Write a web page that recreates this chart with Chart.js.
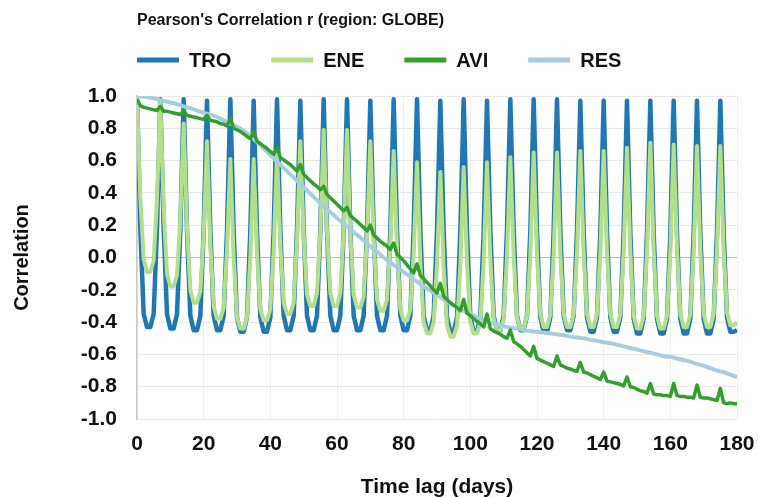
<!DOCTYPE html>
<html>
<head>
<meta charset="utf-8">
<title>Pearson's Correlation r (region: GLOBE)</title>
<script src="https://cdn.jsdelivr.net/npm/chart.js@4.4.1/dist/chart.umd.min.js"></script>
<style>
    html, body { margin: 0; padding: 0; background: #ffffff; }
    #wrap { width: 758px; height: 497px; }
</style>
</head>
<body>
<div id="wrap"><canvas id="corrChart" width="758" height="497"></canvas></div>
<script>
// lag in days, 0 .. 180
const lagDays = Array.from({ length: 181 }, (_, i) => i);

const seriesNames = ["TRO", "ENE", "AVI", "RES"];

/* values, one per day */
const troValues = [
    1.00, 0.18, -0.35, -0.43, -0.43, -0.35, 0.18,
    0.98, 0.18, -0.35, -0.44, -0.44, -0.35, 0.17,
    0.98, 0.17, -0.36, -0.45, -0.45, -0.36, 0.17,
    0.97, 0.17, -0.36, -0.45, -0.45, -0.36, 0.16,
    0.98, 0.16, -0.37, -0.46, -0.46, -0.37, 0.16,
    0.97, 0.16, -0.37, -0.46, -0.46, -0.37, 0.16,
    0.98, 0.17, -0.36, -0.45, -0.45, -0.36, 0.17,
    0.97, 0.17, -0.36, -0.45, -0.45, -0.36, 0.17,
    0.98, 0.17, -0.36, -0.45, -0.45, -0.36, 0.17,
    0.98, 0.17, -0.36, -0.45, -0.45, -0.36, 0.17,
    0.97, 0.17, -0.36, -0.45, -0.45, -0.36, 0.17,
    0.98, 0.17, -0.36, -0.45, -0.45, -0.36, 0.17,
    0.98, 0.17, -0.36, -0.45, -0.45, -0.36, 0.17,
    0.97, 0.16, -0.37, -0.46, -0.46, -0.37, 0.16,
    0.98, 0.16, -0.37, -0.46, -0.46, -0.37, 0.16,
    0.97, 0.17, -0.36, -0.45, -0.45, -0.36, 0.17,
    0.98, 0.17, -0.36, -0.45, -0.45, -0.36, 0.16,
    0.98, 0.16, -0.37, -0.46, -0.46, -0.37, 0.16,
    0.98, 0.16, -0.36, -0.45, -0.45, -0.36, 0.16,
    0.97, 0.16, -0.37, -0.46, -0.46, -0.37, 0.16,
    0.97, 0.16, -0.37, -0.46, -0.46, -0.37, 0.16,
    0.97, 0.15, -0.38, -0.47, -0.47, -0.38, 0.15,
    0.97, 0.15, -0.38, -0.47, -0.47, -0.38, 0.15,
    0.97, 0.15, -0.38, -0.47, -0.47, -0.38, 0.15,
    0.97, 0.15, -0.38, -0.47, -0.47, -0.38, 0.15,
    0.97, 0.15, -0.37, -0.46, -0.46, -0.45
];

const eneValues = [
    1.00, 0.37, -0.01, -0.09, -0.09, -0.02, 0.36,
    0.97, 0.30, -0.10, -0.18, -0.18, -0.11, 0.24,
    0.83, 0.19, -0.20, -0.28, -0.28, -0.21, 0.14,
    0.72, 0.08, -0.30, -0.38, -0.38, -0.31, 0.04,
    0.61, 0.00, -0.37, -0.44, -0.44, -0.37, 0.00,
    0.61, 0.03, -0.32, -0.39, -0.39, -0.32, 0.04,
    0.64, 0.07, -0.28, -0.35, -0.35, -0.28, 0.10,
    0.72, 0.13, -0.23, -0.30, -0.30, -0.22, 0.16,
    0.79, 0.16, -0.22, -0.30, -0.30, -0.22, 0.16,
    0.79, 0.15, -0.23, -0.31, -0.31, -0.24, 0.12,
    0.72, 0.11, -0.26, -0.33, -0.33, -0.26, 0.09,
    0.66, 0.05, -0.32, -0.39, -0.39, -0.32, 0.02,
    0.59, -0.03, -0.40, -0.47, -0.47, -0.40, -0.05,
    0.53, -0.06, -0.42, -0.49, -0.49, -0.42, -0.05,
    0.56, -0.04, -0.40, -0.47, -0.47, -0.40, -0.03,
    0.59, -0.01, -0.38, -0.45, -0.45, -0.38, 0.00,
    0.62, 0.01, -0.37, -0.44, -0.44, -0.36, 0.02,
    0.65, 0.02, -0.35, -0.43, -0.43, -0.35, 0.02,
    0.65, 0.02, -0.35, -0.43, -0.43, -0.35, 0.03,
    0.66, 0.03, -0.35, -0.43, -0.43, -0.35, 0.03,
    0.66, 0.03, -0.35, -0.43, -0.43, -0.35, 0.04,
    0.68, 0.03, -0.36, -0.44, -0.44, -0.36, 0.04,
    0.71, 0.04, -0.36, -0.44, -0.44, -0.36, 0.04,
    0.70, 0.05, -0.35, -0.43, -0.43, -0.35, 0.04,
    0.69, 0.04, -0.35, -0.43, -0.43, -0.35, 0.04,
    0.69, 0.05, -0.34, -0.42, -0.42, -0.40
];

const aviValues = [
    0.98, 0.94, 0.93, 0.925, 0.92, 0.915, 0.91,
    0.935, 0.905, 0.905, 0.90, 0.895, 0.89, 0.885,
    0.91, 0.88, 0.875, 0.87, 0.865, 0.86, 0.855,
    0.88, 0.85, 0.845, 0.84, 0.83, 0.825, 0.815,
    0.86, 0.80, 0.79, 0.78, 0.765, 0.75, 0.735,
    0.78, 0.72, 0.705, 0.69, 0.675, 0.655, 0.64,
    0.68, 0.62, 0.605, 0.59, 0.575, 0.555, 0.535,
    0.575, 0.515, 0.495, 0.475, 0.455, 0.44, 0.42,
    0.44, 0.39, 0.37, 0.35, 0.33, 0.31, 0.29,
    0.31, 0.26, 0.24, 0.225, 0.205, 0.185, 0.165,
    0.20, 0.14, 0.12, 0.10, 0.085, 0.07, 0.05,
    0.09, 0.02, 0.00, -0.02, -0.045, -0.07, -0.095,
    -0.04, -0.11, -0.13, -0.155, -0.175, -0.20, -0.22,
    -0.16, -0.24, -0.26, -0.28, -0.295, -0.31, -0.33,
    -0.26, -0.345, -0.36, -0.38, -0.395, -0.41, -0.43,
    -0.35, -0.44, -0.455, -0.465, -0.475, -0.49, -0.50,
    -0.45, -0.52, -0.535, -0.55, -0.57, -0.59, -0.61,
    -0.55, -0.625, -0.635, -0.645, -0.655, -0.665, -0.675,
    -0.61, -0.665, -0.675, -0.685, -0.69, -0.70, -0.705,
    -0.65, -0.71, -0.715, -0.725, -0.735, -0.745, -0.755,
    -0.71, -0.765, -0.77, -0.775, -0.78, -0.785, -0.795,
    -0.74, -0.80, -0.805, -0.815, -0.825, -0.83, -0.84,
    -0.78, -0.845, -0.85, -0.85, -0.855, -0.855, -0.86,
    -0.78, -0.855, -0.86, -0.86, -0.865, -0.865, -0.87,
    -0.79, -0.865, -0.87, -0.87, -0.875, -0.88, -0.885,
    -0.81, -0.90, -0.905, -0.90, -0.905, -0.905
];

const resValues = [
    1.00, 0.998, 0.995, 0.993, 0.99, 0.985, 0.98,
    0.975, 0.97, 0.965, 0.96, 0.955, 0.95, 0.943,
    0.935, 0.93, 0.925, 0.918, 0.91, 0.903, 0.895,
    0.89, 0.885, 0.878, 0.87, 0.86, 0.85, 0.84,
    0.83, 0.82, 0.81, 0.798, 0.785, 0.77, 0.755,
    0.735, 0.715, 0.695, 0.675, 0.655, 0.635, 0.615,
    0.595, 0.575, 0.555, 0.535, 0.515, 0.495, 0.475,
    0.455, 0.435, 0.415, 0.395, 0.375, 0.355, 0.335,
    0.315, 0.298, 0.28, 0.263, 0.245, 0.228, 0.21,
    0.193, 0.175, 0.158, 0.14, 0.123, 0.105, 0.088,
    0.07, 0.053, 0.035, 0.018, 0.00, -0.015, -0.03,
    -0.045, -0.06, -0.075, -0.09, -0.105, -0.12, -0.135,
    -0.15, -0.165, -0.18, -0.193, -0.205, -0.218, -0.23,
    -0.245, -0.26, -0.273, -0.285, -0.298, -0.31, -0.32,
    -0.33, -0.34, -0.35, -0.36, -0.37, -0.38, -0.39,
    -0.398, -0.405, -0.41, -0.415, -0.42, -0.425, -0.43,
    -0.435, -0.438, -0.44, -0.445, -0.45, -0.453, -0.455,
    -0.458, -0.46, -0.463, -0.465, -0.468, -0.47, -0.473,
    -0.475, -0.478, -0.48, -0.485, -0.49, -0.493, -0.495,
    -0.498, -0.50, -0.505, -0.51, -0.513, -0.515, -0.52,
    -0.525, -0.528, -0.53, -0.535, -0.54, -0.545, -0.55,
    -0.555, -0.56, -0.565, -0.57, -0.575, -0.58, -0.585,
    -0.59, -0.595, -0.60, -0.605, -0.61, -0.613, -0.615,
    -0.62, -0.625, -0.63, -0.635, -0.64, -0.645, -0.653,
    -0.66, -0.665, -0.67, -0.678, -0.685, -0.693, -0.70,
    -0.705, -0.71, -0.718, -0.725, -0.733, -0.74
];

const yTicks = [-1.0, -0.8, -0.6, -0.4, -0.2, 0.0, 0.2, 0.4, 0.6, 0.8, 1.0];
const xTicks = [0, 20, 40, 60, 80, 100, 120, 140, 160, 180];

const FONT = "'Liberation Sans', Arial, sans-serif";

/* ==========================
   TITLE + LEGEND (drawn above the plot, starting at the y axis)
========================== */
const headerPlugin = {
    id: "header",
    afterDraw(chart) {
        const ctx = chart.ctx;
        const left = chart.chartArea.left;
        ctx.save();
        ctx.fillStyle = "#111111";
        ctx.textBaseline = "middle";
        ctx.textAlign = "left";
        ctx.font = "bold 16px " + FONT;
        ctx.fillText("Pearson's Correlation r (region: GLOBE)", left, 21);

        ctx.font = "bold 20px " + FONT;
        let x = left;
        const y = 60;
        chart.data.datasets.forEach(ds => {
            ctx.strokeStyle = ds.borderColor;
            ctx.lineWidth = 5;
            ctx.lineCap = "butt";
            ctx.beginPath();
            ctx.moveTo(x, y);
            ctx.lineTo(x + 42, y);
            ctx.stroke();
            ctx.fillText(ds.label, x + 52, y + 1);
            x += 52 + ctx.measureText(ds.label).width + 40;
        });
        ctx.restore();
    }
};

const colors = ["#1f78b4", "#b2df8a", "#33a02c", "#a6cee3"];
const widths = [4.5, 4, 3.5, 4];
const drawOrder = [3, 2, 0, 1]; // lower order is drawn on top
const allValues = [troValues, eneValues, aviValues, resValues];

new Chart(document.getElementById("corrChart").getContext("2d"), {
    type: "line",
    data: {
        labels: lagDays,
        datasets: seriesNames.map((name, i) => ({
            label: name,
            data: allValues[i],
            borderColor: colors[i],
            backgroundColor: colors[i],
            borderWidth: widths[i],
            borderJoinStyle: "round",
            pointRadius: 0,
            tension: 0,
            fill: false,
            order: drawOrder[i]
        }))
    },
    options: {
        responsive: false,
        animation: false,
        layout: { padding: { top: 96, right: 21, left: 0, bottom: 0 } },
        plugins: {
            legend: { display: false },
            title: { display: false },
            tooltip: { enabled: false }
        },
        scales: {
            x: {
                type: "linear",
                min: 0,
                max: 180,
                afterBuildTicks: s => { s.ticks = xTicks.map(v => ({ value: v })); },
                afterFit: s => {
                    s.height = 78;
                    s.paddingLeft = 0;
                    s.paddingRight = 0;
                },
                ticks: {
                    padding: 13,
                    color: "#111111",
                    font: { family: FONT, size: 21, weight: "bold" },
                    maxRotation: 0
                },
                grid: { color: "#efefef", lineWidth: 1, drawTicks: false },
                border: { display: false },
                title: {
                    display: true,
                    text: "Time lag (days)",
                    color: "#111111",
                    font: { family: FONT, size: 21, weight: "bold" },
                    padding: { top: 0, bottom: -3 }
                }
            },
            y: {
                min: -1,
                max: 1,
                afterBuildTicks: s => { s.ticks = yTicks.map(v => ({ value: v })); },
                afterFit: s => { s.width = 137; },
                ticks: {
                    padding: 20,
                    color: "#111111",
                    font: { family: FONT, size: 21, weight: "bold" },
                    callback: v => (Math.abs(v) < 1e-9 ? 0 : v).toFixed(1)
                },
                grid: {
                    drawTicks: false,
                    lineWidth: 1,
                    color: c => (Math.abs(c.tick.value) < 1e-9 ? "#bdbdbd" : "#e9e9e9")
                },
                border: { display: true, color: "#c9c9c9", width: 1.5 },
                title: {
                    display: true,
                    text: "Correlation",
                    color: "#111111",
                    font: { family: FONT, size: 20, weight: "bold" },
                    padding: { top: 10, bottom: 0 }
                }
            }
        }
    },
    plugins: [headerPlugin]
});
</script>
</body>
</html>
